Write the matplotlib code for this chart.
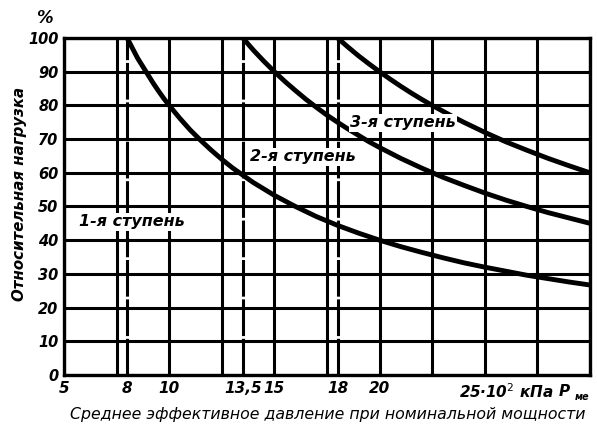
import matplotlib.pyplot as plt

# x: mean effective pressure, x10^2 kPa ; y: relative load, %
x_stage1 = [8, 8.25, 8.5, 8.75, 9, 9.25, 9.5, 9.75, 10, 10.5, 11, 11.5, 12, 12.5, 13, 13.5,
            14, 15, 16, 17, 18, 19, 20, 21, 22, 23, 24, 25, 26, 27, 28, 29, 30]
y_stage1 = [100, 97, 94, 91.5, 89, 86.5, 84.2, 82, 80, 76.2, 72.7, 69.6, 66.7, 64, 61.5, 59.3,
            57.1, 53.3, 50, 47, 44.4, 42.1, 40, 38.1, 36.4, 34.8, 33.3, 32, 30.8, 29.6, 28.6,
            27.6, 26.7]

x_stage2 = [13.5, 13.75, 14, 14.5, 15, 15.5, 16, 16.5, 17, 17.5, 18, 18.5, 19, 19.5, 20,
            21, 22, 23, 24, 25, 26, 27, 28, 29, 30]
y_stage2 = [100, 98.2, 96.4, 93.1, 90, 87.1, 84.4, 81.8, 79.4, 77.1, 75, 73, 71.1, 69.2, 67.5,
            64.3, 61.4, 58.7, 56.3, 54, 51.9, 50, 48.2, 46.6, 45]

x_stage3 = [18, 18.5, 19, 19.5, 20, 20.5, 21, 21.5, 22, 22.5, 23, 23.5, 24, 25, 26, 27, 28, 29, 30]
y_stage3 = [100, 97.3, 94.7, 92.3, 90, 87.8, 85.7, 83.7, 81.8, 80, 78.3, 76.6, 75, 72, 69.2,
            66.7, 64.3, 62.1, 60]

stage_labels = ['1-я ступень', '2-я ступень', '3-я ступень']
stage_label_pos = [(5.7, 45.5), (13.85, 64.7), (18.6, 74.8)]

switch_x = [8, 13.5, 18]
x_grid = [5 + 2.5 * i for i in range(11)]
y_ticks = list(range(0, 101, 10))
x_tick_pos = [5, 8, 10, 13.5, 15, 18, 20]
x_tick_lbl = ['5', '8', '10', '13,5', '15', '18', '20']

fig = plt.figure(figsize=(5.97, 4.29), dpi=100)
ax = fig.add_axes([0.1072, 0.1259, 0.8811, 0.7855])
ax.set_xlim(5, 30)
ax.set_ylim(0, 100)

font = dict(family='DejaVu Sans', style='italic', weight='bold')

# grid
for gx in x_grid:
    ax.axvline(gx, color='black', lw=2.2, zorder=1)
for gy in y_ticks:
    ax.axhline(gy, color='black', lw=2.2, zorder=1)
for sx in switch_x:
    ax.axvline(sx, color='black', lw=2.2, linestyle=(0, (12, 0.9)), zorder=1)

for s in ax.spines.values():
    s.set_linewidth(2.4)

ax.plot(x_stage1, y_stage1, color='black', lw=3.5, zorder=3, solid_capstyle='butt')
ax.plot(x_stage2, y_stage2, color='black', lw=3.5, zorder=3, solid_capstyle='butt')
ax.plot(x_stage3, y_stage3, color='black', lw=3.5, zorder=3, solid_capstyle='butt')

for lbl, (tx, ty) in zip(stage_labels, stage_label_pos):
    ax.text(tx, ty, lbl, fontsize=11.5, ha='left', va='center', zorder=4,
            bbox=dict(facecolor='white', edgecolor='none', pad=1), **font)

ax.set_yticks(y_ticks)
ax.set_yticklabels([str(v) for v in y_ticks], fontsize=10.5, **font)
ax.set_xticks(x_tick_pos)
ax.set_xticklabels(x_tick_lbl, fontsize=11, **font)
ax.tick_params(length=0, pad=4)

ax.text(23.75, -4.9, '25·10$^2$ кПа', fontsize=11, ha='left', va='center',
        **font)
ax.text(28.5, -4.9, 'P', fontsize=11, ha='left', va='center', **font)
ax.text(29.25, -6.6, 'ме', fontsize=7, ha='left', va='center', **font)

fig.text(44 / 597, 1 - 18 / 429, '%', fontsize=12, ha='center', va='center', **font)

fig.text(20 / 597, 1 - 194 / 429, 'Относительная нагрузка', rotation=90,
         fontsize=10.8, ha='center', va='center', **font)
fig.text(328 / 597, 1 - 415 / 429,
         'Среднее эффективное давление при номинальной мощности',
         fontsize=11.3, ha='center', va='center', family='DejaVu Sans', style='italic')

fig.savefig('out.png', dpi=100)
